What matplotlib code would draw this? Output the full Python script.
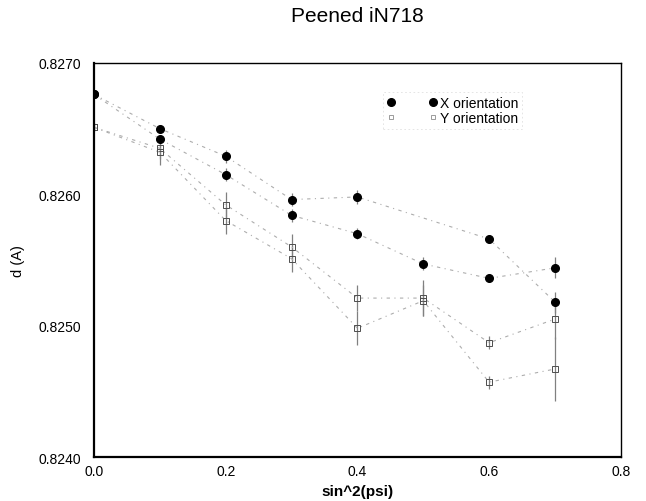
import matplotlib
matplotlib.use("Agg")
import matplotlib.pyplot as plt
from matplotlib.lines import Line2D

plt.rcParams['font.family'] = ['Liberation Sans', 'DejaVu Sans']

# sin^2(psi) positions and measured d-spacings (two psi branches per orientation)
x_xa = [0.0, 0.1, 0.2, 0.3, 0.4, 0.6, 0.7]
d_xa = [0.82676, 0.82650, 0.82629, 0.82596, 0.82598, 0.82566, 0.82518]
e_xa = [0.00002, 0.00003, 0.00005, 0.00005, 0.00005, 0.00003, 0.00008]

x_xb = [0.0, 0.1, 0.2, 0.3, 0.4, 0.5, 0.6, 0.7]
d_xb = [0.82676, 0.82642, 0.82615, 0.82584, 0.82570, 0.82547, 0.82536, 0.82544]
e_xb = [0.00002, 0.00003, 0.00005, 0.00005, 0.00004, 0.00005, 0.00002, 0.00008]

x_y = [0.0, 0.1, 0.2, 0.3, 0.4, 0.5, 0.6, 0.7]
d_ya = [0.82651, 0.82635, 0.82592, 0.82560, 0.82521, 0.82521, 0.82487, 0.82505]
e_ya = [0.00003, 0.00008, 0.00010, 0.00010, 0.00010, 0.00014, 0.00005, 0.00015]
d_yb = [0.82651, 0.82632, 0.82580, 0.82551, 0.82498, 0.82519, 0.82457, 0.82467]
e_yb = [0.00003, 0.00010, 0.00010, 0.00010, 0.00013, 0.00012, 0.00005, 0.00024]

xticks = [0.0, 0.2, 0.4, 0.6, 0.8]
yticks = [0.8240, 0.8250, 0.8260, 0.8270]

fig = plt.figure(figsize=(6.46, 5.02), dpi=100)
ax = fig.add_axes([0.1455, 0.0876, 0.8155, 0.785])

ls = (0, (3, 4, 1, 4))
common = dict(ecolor='0.5', elinewidth=0.9, capsize=0, color='0.68', lw=0.8, linestyle=ls)

ax.errorbar(x_xa, d_xa, yerr=e_xa, marker='o', ms=5.5, mfc='black', mec='black', **common)
ax.errorbar(x_xb, d_xb, yerr=e_xb, marker='o', ms=5.5, mfc='black', mec='black', **common)
ax.errorbar(x_y, d_ya, yerr=e_ya, marker='s', ms=5, mfc='none', mec='0.3', mew=0.7, **common)
ax.errorbar(x_y, d_yb, yerr=e_yb, marker='s', ms=5, mfc='none', mec='0.3', mew=0.7, **common)

ax.set_xlim(0, 0.8)
ax.set_ylim(0.8240, 0.8270)
ax.set_xticks(xticks)
ax.set_xticklabels(['%.1f' % v for v in xticks])
ax.set_yticks(yticks)
ax.set_yticklabels(['%.4f' % v for v in yticks])
ax.tick_params(length=0, labelsize=10, pad=5)
ax.tick_params(axis='y', pad=9)

for s in ['left', 'bottom']:
    ax.spines[s].set_linewidth(1.6)
for s in ['top', 'right']:
    ax.spines[s].set_linewidth(1.0)

ax.set_title('Peened iN718', fontsize=15, pad=30)
ax.set_xlabel('sin^2(psi)', fontsize=11, fontweight='bold', labelpad=4)
ax.set_ylabel('d (A)', fontsize=10.5, labelpad=10)

hx = Line2D([], [], ls='none', marker='o', ms=5.5, color='black')
hy = Line2D([], [], ls='none', marker='s', ms=2.5, mfc='none', mec='0.55', mew=0.6)
leg = ax.legend([hx, hy], ['X orientation', 'Y orientation'], numpoints=2,
                loc='upper left', bbox_to_anchor=(0.535, 0.945), fontsize=10,
                frameon=True, fancybox=False, handlelength=3.6, handletextpad=0.2,
                borderpad=0.3, labelspacing=0.1)
leg.get_frame().set_edgecolor('0.85')
leg.get_frame().set_linewidth(0.6)
leg.get_frame().set_linestyle((0, (2, 3)))

fig.savefig('out.png', dpi=100)
